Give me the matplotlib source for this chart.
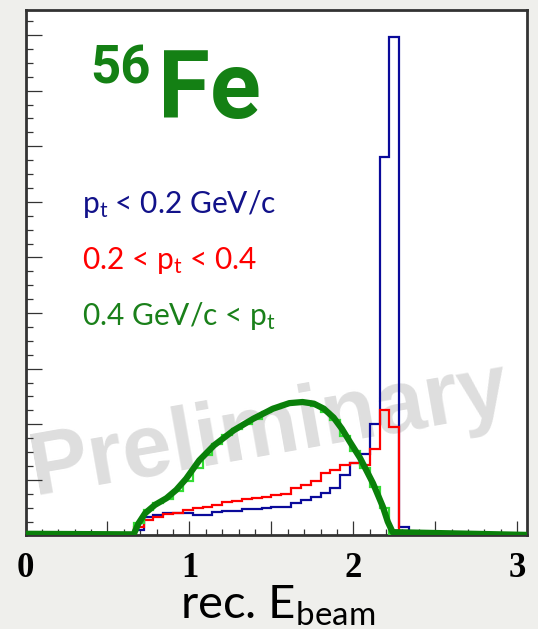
import numpy as np
import matplotlib.pyplot as plt
from matplotlib.ticker import MultipleLocator, FuncFormatter

plt.rcParams['mathtext.fontset'] = 'custom'
plt.rcParams['mathtext.rm'] = 'Lato'
plt.rcParams['mathtext.it'] = 'Lato:italic'
plt.rcParams['mathtext.bf'] = 'Lato:bold'

# histogram bins: 0.06 wide, first filled bin starts at 0.66
bin_w = 0.06
first_edge = 0.66

# p_t < 0.2 GeV/c
blue = [0.10, 0.33, 0.37, 0.40, 0.41, 0.40, 0.37, 0.37, 0.42, 0.44, 0.44,
        0.47, 0.47, 0.49, 0.51, 0.52, 0.58, 0.64, 0.70, 0.76, 0.85, 1.08,
        1.30, 1.46, 2.00, 6.81, 8.97, 0.16]
# 0.2 < p_t < 0.4
red = [0.15, 0.28, 0.34, 0.38, 0.41, 0.46, 0.49, 0.52, 0.55, 0.60, 0.62,
       0.65, 0.67, 0.70, 0.72, 0.74, 0.85, 0.90, 0.98, 1.12, 1.18, 1.26,
       1.31, 1.26, 1.56, 2.25, 1.95, 0.0]
# 0.4 GeV/c < p_t
lime = [0.22, 0.45, 0.58, 0.66, 0.80, 0.98, 1.22, 1.45, 1.64, 1.80, 1.92,
        2.00, 2.10, 2.22, 2.30, 2.36, 2.40, 2.38, 2.32, 2.22, 2.08, 1.78,
        1.52, 1.22, 0.88, 0.50, 0.0, 0.0]

# fitted curve for the high p_t sample
fit_x = [0.00, 0.66, 0.69, 0.73, 0.79, 0.86, 0.92, 0.98, 1.06, 1.15, 1.27,
         1.39, 1.51, 1.61, 1.69, 1.76, 1.82, 1.88, 1.93, 1.98, 2.04, 2.12,
         2.18, 2.21, 2.24, 3.06]
fit_y = [0.03, 0.02, 0.22, 0.40, 0.55, 0.67, 0.82, 1.02, 1.35, 1.62, 1.89,
         2.10, 2.28, 2.38, 2.40, 2.37, 2.28, 2.12, 1.92, 1.68, 1.40, 0.94,
         0.52, 0.25, 0.06, 0.01]

x_ticklabels = ['0', '1', '2', '3']

n_bins = int(round(3.0 / bin_w))
edges = np.linspace(0, 3.0, n_bins + 1)
start = int(round(first_edge / bin_w))


def full(vals):
    h = np.zeros(n_bins)
    h[start:start + len(vals)] = vals
    return h


fig = plt.figure(figsize=(5.38, 6.29), dpi=100)
fig.patch.set_facecolor('#efefec')
ax = fig.add_axes([0.0474, 0.1487, 0.9322, 0.8354])

ax.text(0.4855, 0.20, 'Preliminary', transform=ax.transAxes, rotation=10,
        ha='center', va='center', rotation_mode='anchor',
        fontsize=64, fontweight='bold', family='Liberation Sans',
        color='#dedede', zorder=0.5)

ax.stairs(full(blue), edges, baseline=None, color='#0a0a9a', lw=1.6, zorder=2)
ax.stairs(full(red), edges, baseline=None, color='#ff0000', lw=1.6, zorder=3)
ax.stairs(full(lime), edges, baseline=None, color='#33dd33', lw=1.6, zorder=4)
ax.plot(fit_x, fit_y, color='#0a800a', lw=4.5, solid_capstyle='butt', zorder=5)

ax.set_xlim(0, 3.06)
ax.set_ylim(0, 9.45)

ax.xaxis.set_major_locator(MultipleLocator(0.5))
ax.xaxis.set_minor_locator(MultipleLocator(0.1))
ax.xaxis.set_major_formatter(FuncFormatter(
    lambda v, p: x_ticklabels[int(round(v))] if abs(v - round(v)) < 1e-6 and 0 <= round(v) < len(x_ticklabels) else ''))
ax.yaxis.set_major_locator(MultipleLocator(1))
ax.yaxis.set_minor_locator(MultipleLocator(0.25))
ax.tick_params(axis='x', which='major', direction='in', length=10, width=0.9,
               color='#333333', pad=12, labelsize=25)
ax.tick_params(axis='x', which='minor', direction='in', length=4.3, width=0.9,
               color='#333333')
ax.tick_params(axis='y', which='major', direction='in', length=11.5, width=0.9,
               color='#333333', labelleft=False)
ax.tick_params(axis='y', which='minor', direction='in', length=5, width=0.9,
               color='#333333')
for lab in ax.get_xticklabels():
    lab.set_family('Liberation Serif')
    lab.set_fontweight('bold')

for s in ax.spines.values():
    s.set_color('#333333')
    s.set_linewidth(2)


def px(x, y):
    return x / 538, 1 - y / 629


title_font = ['Roboto', 'DejaVu Sans']
fig.text(*px(90, 84), '56', fontsize=38, fontweight='bold', color='#148014',
         family=title_font, va='baseline', ha='left')
fig.text(*px(158, 118), 'Fe', fontsize=68, fontweight='bold', color='#148014',
         family=title_font, va='baseline', ha='left')

fig.text(*px(82, 213), r'p$_\mathrm{t}$ < 0.2 GeV/c', fontsize=21.5,
         family='Lato', color='#12128a', va='baseline', ha='left')
fig.text(*px(82, 269), r'0.2 < p$_\mathrm{t}$ < 0.4', fontsize=21.5,
         family='Lato', color='#ff0000', va='baseline', ha='left')
fig.text(*px(82, 325), r'0.4 GeV/c < p$_\mathrm{t}$', fontsize=21.5,
         family='Lato', color='#1a801a', va='baseline', ha='left')

fig.text(*px(278, 619), r'rec. E$_\mathrm{beam}$', fontsize=34,
         family='Lato', color='black', va='baseline', ha='center')

fig.savefig('out.png', dpi=100, facecolor=fig.get_facecolor())
